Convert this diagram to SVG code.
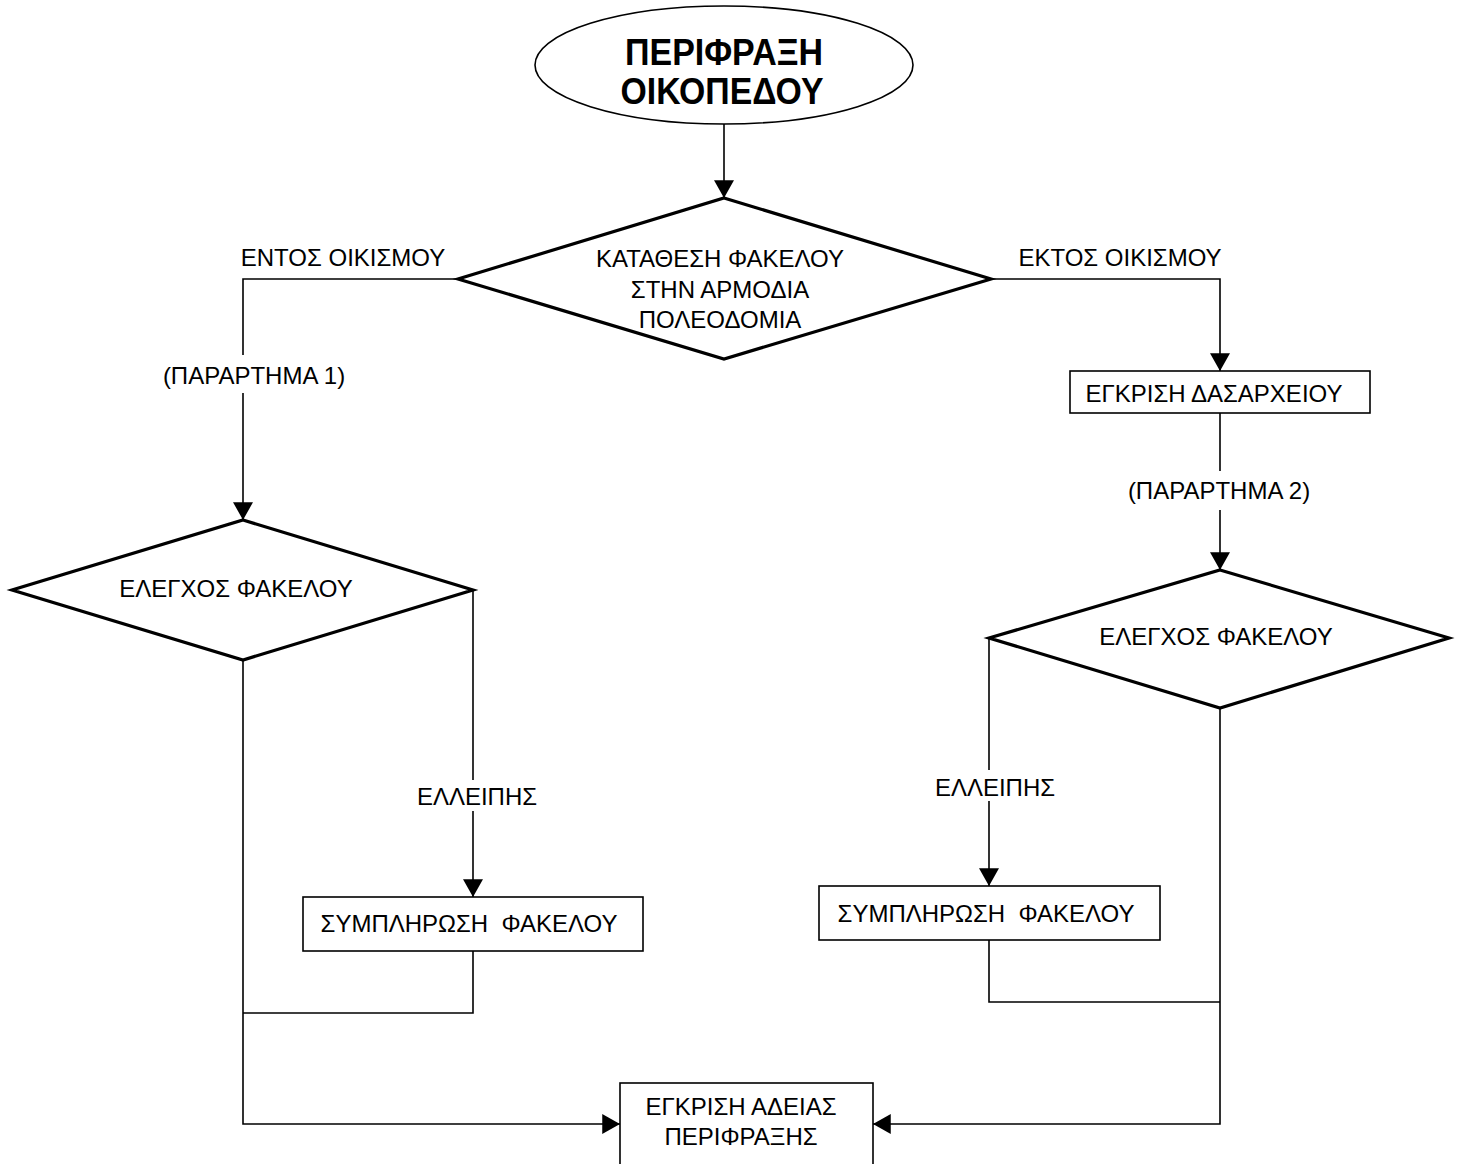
<svg xmlns="http://www.w3.org/2000/svg" width="1462" height="1164" viewBox="0 0 1462 1164">
<style>
text{font-family:"Liberation Sans",Arial,sans-serif;font-size:24px;fill:#000;text-anchor:middle;white-space:pre}
.title{font-size:37px;font-weight:bold}
.dia{fill:#fff;stroke:#000;stroke-width:3.2;stroke-linejoin:miter}
.box{fill:#fff;stroke:#000;stroke-width:1.6}
.con{fill:none;stroke:#000;stroke-width:1.6}
</style>
<defs>
<marker id="ah" markerUnits="userSpaceOnUse" markerWidth="20" markerHeight="20" viewBox="0 0 16 18" refX="16" refY="9" orient="auto">
<path d="M0,0 L16,9 L0,18 Z" fill="#000"/>
</marker>
</defs>
<rect width="1462" height="1164" fill="#fff"/>
<g id="connectors">
<path class="con" d="M724,124 V198" marker-end="url(#ah)"/>
<path class="con" d="M458,279 H243 V355"/>
<path class="con" d="M243,393 V520" marker-end="url(#ah)"/>
<path class="con" d="M991,279 H1220 V371" marker-end="url(#ah)"/>
<path class="con" d="M1220,413 V471"/>
<path class="con" d="M1220,510 V570" marker-end="url(#ah)"/>
<path class="con" d="M473,590 V780"/>
<path class="con" d="M473,811 V897" marker-end="url(#ah)"/>
<path class="con" d="M473,951 V1013 H243"/>
<path class="con" d="M243,660 V1124 H620" marker-end="url(#ah)"/>
<path class="con" d="M989,638 V770"/>
<path class="con" d="M989,801 V886" marker-end="url(#ah)"/>
<path class="con" d="M989,940 V1002 H1220"/>
<path class="con" d="M1220,708 V1124 H873" marker-end="url(#ah)"/>
</g>
<g id="start">
<ellipse cx="724" cy="65" rx="189" ry="59" fill="#fff" stroke="#000" stroke-width="1.6"/>
<text class="title" x="724" y="65" textLength="198" lengthAdjust="spacingAndGlyphs">ΠΕΡΙΦΡΑΞΗ</text>
<text class="title" x="722" y="104" textLength="203" lengthAdjust="spacingAndGlyphs">ΟΙΚΟΠΕΔΟΥ</text>
</g>
<g id="submit">
<polygon class="dia" points="724,198 991,279 724,359 458,279"/>
<text x="720" y="267">ΚΑΤΑΘΕΣΗ ΦΑΚΕΛΟΥ</text>
<text x="720" y="298">ΣΤΗΝ ΑΡΜΟΔΙΑ</text>
<text x="720" y="328">ΠΟΛΕΟΔΟΜΙΑ</text>
</g>
<g id="label-entos"><text x="343" y="266">ΕΝΤΟΣ ΟΙΚΙΣΜΟΥ</text></g>
<g id="label-ektos"><text x="1120" y="266">ΕΚΤΟΣ ΟΙΚΙΣΜΟΥ</text></g>
<g id="label-par1"><text x="254" y="384">(ΠΑΡΑΡΤΗΜΑ 1)</text></g>
<g id="label-par2"><text x="1219" y="499">(ΠΑΡΑΡΤΗΜΑ 2)</text></g>
<g id="check-left">
<polygon class="dia" points="243,520 473,590 243,660 12,590"/>
<text x="236" y="597">ΕΛΕΓΧΟΣ ΦΑΚΕΛΟΥ</text>
</g>
<g id="forest">
<rect class="box" x="1070" y="371" width="300" height="42"/>
<text x="1214" y="402">ΕΓΚΡΙΣΗ ΔΑΣΑΡΧΕΙΟΥ</text>
</g>
<g id="check-right">
<polygon class="dia" points="1220,570 1449,638 1220,708 989,638"/>
<text x="1216" y="645">ΕΛΕΓΧΟΣ ΦΑΚΕΛΟΥ</text>
</g>
<g id="label-ell-left"><text x="477" y="805">ΕΛΛΕΙΠΗΣ</text></g>
<g id="label-ell-right"><text x="995" y="796">ΕΛΛΕΙΠΗΣ</text></g>
<g id="complete-left">
<rect class="box" x="303" y="897" width="340" height="54"/>
<text x="469" y="932">ΣΥΜΠΛΗΡΩΣΗ  ΦΑΚΕΛΟΥ</text>
</g>
<g id="complete-right">
<rect class="box" x="819" y="886" width="341" height="54"/>
<text x="986" y="922">ΣΥΜΠΛΗΡΩΣΗ  ΦΑΚΕΛΟΥ</text>
</g>
<g id="approval">
<rect class="box" x="620" y="1083" width="253" height="100"/>
<text x="741" y="1115">ΕΓΚΡΙΣΗ ΑΔΕΙΑΣ</text>
<text x="741" y="1145">ΠΕΡΙΦΡΑΞΗΣ</text>
</g>
</svg>
